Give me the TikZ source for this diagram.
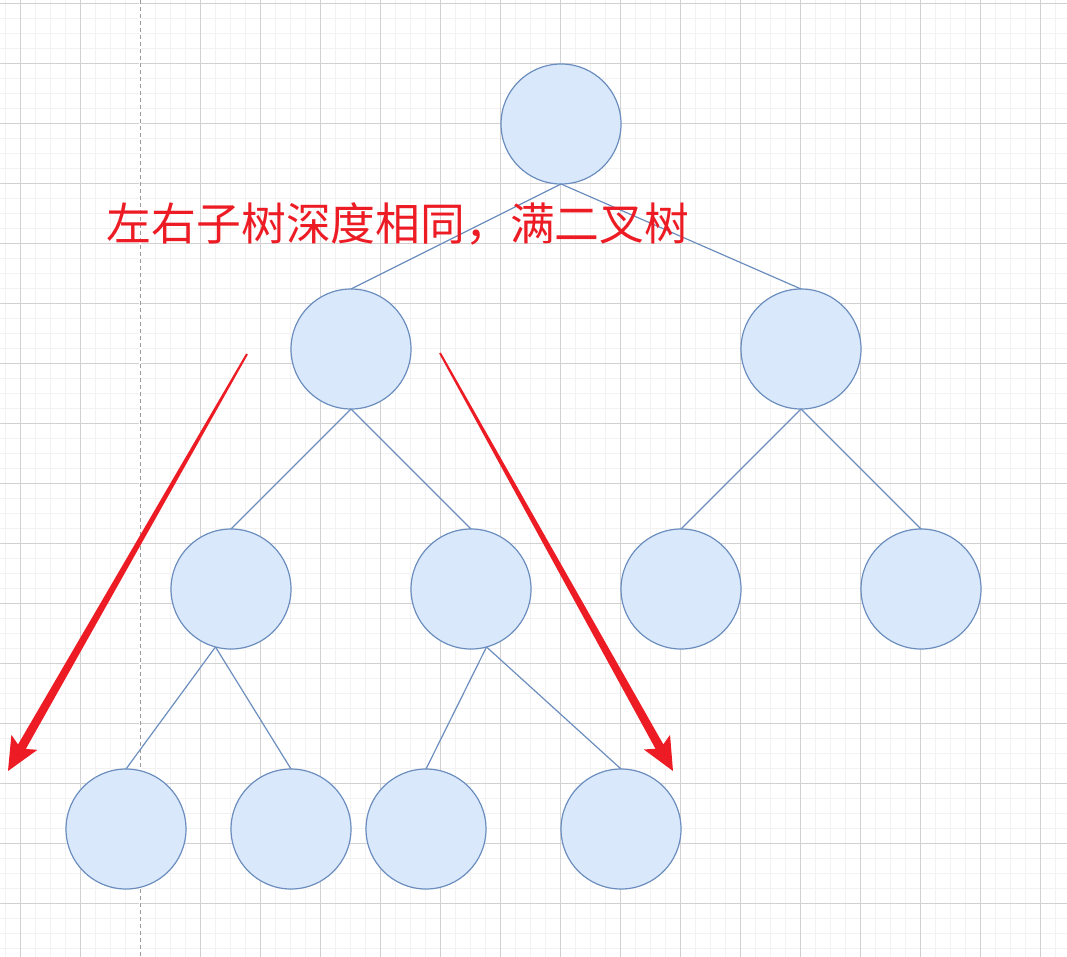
\documentclass[tikz,border=0pt]{standalone}
\usepackage{fontspec}
\newfontfamily\cjk{Noto Sans CJK SC}
\usetikzlibrary{calc}
\definecolor{nodefill}{HTML}{DAE8FC}
\definecolor{nodeline}{HTML}{6C8EBF}
\definecolor{arrowred}{HTML}{ED1C24}
\tikzset{
	tn/.style={draw=nodeline,fill=nodefill,circle,inner sep=0,outer sep=0,minimum size=120pt,line width=1.2pt},
	edge/.style={draw=nodeline,line width=1.2pt},
	minorgrid/.style={draw=black!5,line width=0.8pt},
	majorgrid/.style={draw=black!18,line width=0.8pt},
}

\begin{document}
\begin{tikzpicture}[x=1pt,y=-1pt]
	\useasboundingbox (0,0) rectangle (1067,957);
	\fill[white] (0,0) rectangle (1067,957);
	\foreach \x in {5,20,...,1066} \draw[minorgrid] (\x,0) -- (\x,957);
	\foreach \y in {3,18,...,956} \draw[minorgrid] (0,\y) -- (1067,\y);
	\foreach \x in {20,80,...,1066} \draw[majorgrid] (\x,0) -- (\x,957);
	\foreach \y in {3,63,...,956} \draw[majorgrid] (0,\y) -- (1067,\y);
	\draw[white,line width=1.2pt] (140,0) -- (140,957);
	\draw[black!40,dash pattern=on 4pt off 3pt,line width=1pt] (140,0) -- (140,957);
	\node[tn] (1) at (561,124) {};
	\node[tn] (2) at (351,349) {};
	\node[tn] (3) at (801,349) {};
	\node[tn] (4) at (231,589) {};
	\node[tn] (5) at (471,589) {};
	\node[tn] (6) at (681,589) {};
	\node[tn] (7) at (921,589) {};
	\node[tn] (8) at (126,829) {};
	\node[tn] (9) at (291,829) {};
	\node[tn] (10) at (426,829) {};
	\node[tn] (11) at (621,829) {};
	\draw[edge] (1.south) -- (2.north);
	\draw[edge] (1.south) -- (3.north);
	\draw[edge] (2.south) -- (4.north);
	\draw[edge] (2.south) -- (5.north);
	\draw[edge] (3.south) -- (6.north);
	\draw[edge] (3.south) -- (7.north);
	\draw[edge] (4.255) -- (8.north);
	\draw[edge] (4.255) -- (9.north);
	\draw[edge] (5.285) -- (10.north);
	\draw[edge] (5.285) -- (11.north);
	\node[text=arrowred,font=\cjk\fontsize{44.8}{46}\selectfont,inner sep=0] (label) at (398,224) {左右子树深度相同，满二叉树};
	\coordinate (a1) at (247,354);
	\coordinate (b1) at (8,771);
	\coordinate (a2) at (440,353);
	\coordinate (b2) at (673,771);
	\foreach \s/\e in {a1/b1,a2/b2} {
		\coordinate (n) at ($(\e)!28pt!(\s)$);
		\coordinate (m) at ($(\e)!33pt!(\s)$);
		\fill[arrowred] ($(\s)!1pt!90:(\e)$) -- ($(n)!4.5pt!90:(\e)$) -- ($(m)!15pt!90:(\e)$) -- (\e)
			-- ($(m)!15pt!-90:(\e)$) -- ($(n)!4.5pt!-90:(\e)$) -- ($(\s)!1pt!-90:(\e)$) -- cycle;
	}
\end{tikzpicture}
\end{document}
